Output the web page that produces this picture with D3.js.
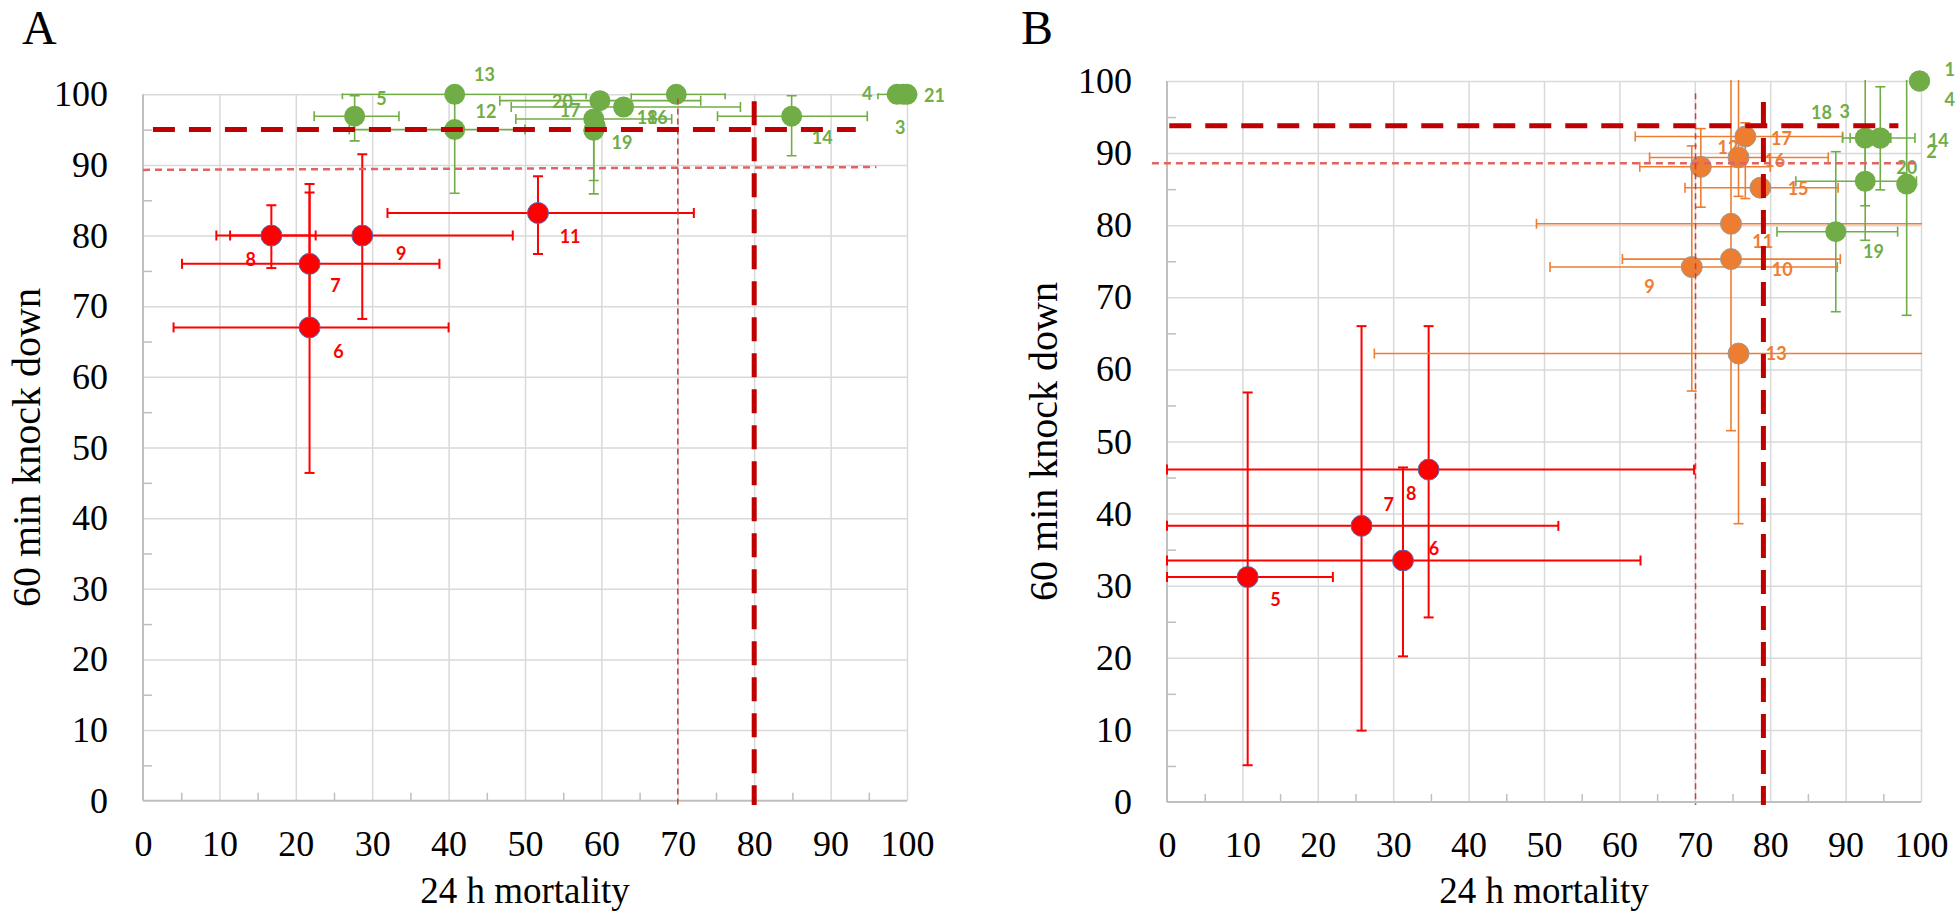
<!DOCTYPE html>
<html><head><meta charset="utf-8">
<script src="https://cdn.jsdelivr.net/npm/d3@7"></script>
<style>body{margin:0;background:#fff}svg{display:block}</style>
</head><body>
<svg id="chart" width="1958" height="914"></svg>
<script>
// ---------- axis ticks ----------
const ticks = [0,10,20,30,40,50,60,70,80,90,100];
const tickLabels = ["0","10","20","30","40","50","60","70","80","90","100"];
const minorTicks = [5,15,25,35,45,55,65,75,85,95];
const xTitle = "24 h mortality";
const yTitle = "60 min knock down";

// ---------- Panel A : red series ----------
const aRedIds  = ["6","7","8","9","11"];
const aRedX    = [21.8, 21.8, 16.8, 28.7, 51.7];
const aRedY    = [67.0, 76.0, 80.0, 80.0, 83.2];
const aRedXLo  = [4.0, 5.1, 9.6, 11.4, 32.0];
const aRedXHi  = [40.0, 38.8, 22.6, 48.4, 72.1];
const aRedYLo  = [46.4, 67.0, 75.4, 68.2, 77.4];
const aRedYHi  = [86.1, 87.3, 84.3, 91.5, 88.4];
const aRedLX   = [25.6, 25.2, 14.1, 33.8, 55.9];
const aRedLY   = [63.6, 72.9, 76.6, 77.5, 79.9];

// ---------- Panel A : green series ----------
const aGreenIds = ["5","13","12","20","17","18","16","19","","14","4","21","3"];
const aGreenX   = [27.7, 40.8, 40.8, 59.8, 62.9, 59.0, 59.2, 59.0, 69.8, 84.9, 98.7, 100, 99.5];
const aGreenY   = [96.9, 100, 95.0, 99.1, 98.2, 96.5, 95.5, 94.9, 100, 96.9, 100, 100, 100];
const aGreenXLo = [22.4, 26.1, 27.0, 46.7, 48.2, 48.8, null, null, 63.9, 75.2, 96.2, null, null];
const aGreenXHi = [33.5, 58.0, 50.0, 73.0, 78.2, 69.2, null, null, 76.2, 94.8, null, null, null];
const aGreenYLo = [93.4, null, 86.0, null, null, 87.8, null, 85.9, null, 91.3, null, null, null];
const aGreenYHi = [99.8, null, 100, null, null, null, null, 97.2, null, 99.8, null, null, null];
const aGreenLX  = [31.2, 44.7, 44.9, 54.9, 55.9, 66.0, 67.3, 62.7, null, 88.9, 94.8, 103.6, 99.1];
const aGreenLY  = [99.4, 102.8, 97.6, 98.9, 97.7, 96.7, 96.7, 93.1, null, 93.8, 100.1, 99.8, 95.3];

// ---------- Panel A : threshold lines ----------
const aThickH = {x:[1.3, 93.3], y:[95, 95]};
const aThinH  = {x:[0, 96], y:[89.3, 89.7]};
const aThickV = {x:[80, 80], y:[99, -0.6]};
const aThinV  = {x:[70, 70], y:[99.4, -0.6]};

// ---------- Panel B : red series ----------
const bRedIds = ["5","6","7","8"];
const bRedX   = [10.7, 31.3, 25.8, 34.7];
const bRedY   = [31.2, 33.5, 38.3, 46.1];
const bRedXLo = [0, 0, 0, 0];
const bRedXHi = [22.0, 62.8, 51.9, 69.9];
const bRedYLo = [5.1, 20.2, 9.9, 25.6];
const bRedYHi = [56.8, 46.4, 66.0, 66.0];
const bRedLX  = [14.4, 35.4, 29.4, 32.4];
const bRedLY  = [28.1, 35.1, 41.3, 42.8];

// ---------- Panel B : orange series ----------
const bOrangeIds = ["17","12","16","15","11","10","9","13"];
const bOrangeX   = [76.7, 70.8, 75.8, 78.7, 74.8, 74.8, 69.6, 75.8];
const bOrangeY   = [92.3, 88.1, 89.4, 85.2, 80.2, 75.3, 74.2, 62.2];
const bOrangeXLo = [62.1, 62.7, 64.0, 68.7, 49.0, 60.4, 50.8, 27.5];
const bOrangeXHi = [89.6, 80.0, 87.7, 89.0, 104, 89.3, 88.9, 104];
const bOrangeYLo = [83.7, 82.5, 84.0, null, 51.5, null, 57.0, 38.6];
const bOrangeYHi = [94.2, 93.4, 106, null, 106, null, 91.0, null];
const bOrangeLX  = [81.5, 74.4, 80.6, 83.7, 79.0, 81.6, 64.0, 80.8];
const bOrangeLY  = [92.0, 90.8, 89.0, 85.0, 77.7, 73.8, 71.5, 62.2];

// ---------- Panel B : green series ----------
const bGreenIds = ["1","4","18","3","14","2","20","19"];
const bGreenX   = [99.8, 99.8, 92.6, 94.6, 94.6, 92.6, 98.1, 88.7];
const bGreenY   = [100, 100, 92.1, 92.1, 92.1, 86.1, 85.7, 79.1];
const bGreenXLo = [null, null, 89.6, 90.6, null, 83.4, null, 80.9];
const bGreenXHi = [null, null, 96.0, 99.2, null, 99.4, null, 96.9];
const bGreenYLo = [null, null, 82.7, 84.9, null, 77.9, 67.5, 68.0];
const bGreenYHi = [null, null, 104, 99.2, null, 92.0, 104, 90.2];
const bGreenLX  = [103.8, 103.8, 86.8, 89.9, 102.3, 101.4, 98.1, 93.7];
const bGreenLY  = [101.5, 97.4, 95.6, 95.7, 91.7, 90.2, 88.0, 76.3];

// ---------- Panel B : threshold lines ----------
const bThickH = {x:[0.3, 97], y:[93.8, 93.8]};
const bThinH  = {x:[-2, 99.5], y:[88.6, 88.6]};
const bThickV = {x:[79.1, 79.1], y:[97.1, -0.4]};
const bThinV  = {x:[70.1, 70.1], y:[98.3, -0.4]};

// ================= drawing =================
const RED = "#ff0000", ORANGE = "#ed7d31", GREEN = "#70ad47", DARKRED = "#c00000";
const SERIF = "'Liberation Serif','Times New Roman',serif";
const LABELFONT = "Lato, 'Open Sans', sans-serif";
const svg = d3.select("#chart");

function makeSeries(ids, x, y, xlo, xhi, ylo, yhi, lx, ly, color, style){
  return ids.map((id,i)=>({id, x:x[i], y:y[i], xlo:xlo[i], xhi:xhi[i], ylo:ylo[i], yhi:yhi[i], lx:lx[i], ly:ly[i], color, style}));
}

function panel(cfg){
  const g = svg.append("g");
  const x = d3.scaleLinear().domain([0,100]).range(cfg.xr);
  const y = d3.scaleLinear().domain([0,100]).range(cfg.yr);
  const pw = cfg.xr[1]-cfg.xr[0], ph = cfg.yr[0]-cfg.yr[1];

  // gridlines
  g.append("g").attr("transform",`translate(0,${cfg.yr[0]})`)
    .call(d3.axisBottom(x).tickValues(ticks.slice(1)).tickSize(-ph).tickFormat(""))
    .call(a=>a.select(".domain").remove())
    .selectAll("line").attr("stroke","#d9d9d9").attr("stroke-width",1.5);
  g.append("g").attr("transform",`translate(${cfg.xr[0]},0)`)
    .call(d3.axisLeft(y).tickValues(ticks.slice(1)).tickSize(-pw).tickFormat(""))
    .call(a=>a.select(".domain").remove())
    .selectAll("line").attr("stroke","#d9d9d9").attr("stroke-width",1.5);
  // minor inner ticks
  g.append("g").attr("transform",`translate(0,${cfg.yr[0]})`)
    .call(d3.axisBottom(x).tickValues(minorTicks).tickSize(-8).tickFormat(""))
    .call(a=>a.select(".domain").remove())
    .selectAll("line").attr("stroke","#bfbfbf").attr("stroke-width",1.5);
  g.append("g").attr("transform",`translate(${cfg.xr[0]},0)`)
    .call(d3.axisLeft(y).tickValues(minorTicks).tickSize(-9).tickFormat(""))
    .call(a=>a.select(".domain").remove())
    .selectAll("line").attr("stroke","#bfbfbf").attr("stroke-width",1.5);
  // axis lines
  g.append("line").attr("x1",x(0)).attr("x2",x(100)).attr("y1",y(0)).attr("y2",y(0))
    .attr("stroke","#bfbfbf").attr("stroke-width",2);
  g.append("line").attr("x1",x(0)).attr("x2",x(0)).attr("y1",y(0)).attr("y2",y(100))
    .attr("stroke","#bfbfbf").attr("stroke-width",2);
  // tick labels
  g.append("g").attr("transform",`translate(0,${cfg.yr[0]})`)
    .call(d3.axisBottom(x).tickValues(ticks).tickSize(0).tickFormat((d,i)=>tickLabels[i]))
    .call(a=>a.select(".domain").remove())
    .selectAll("text").attr("y",55).attr("dy",null)
    .attr("font-family",SERIF).attr("font-size",36).attr("fill","#000");
  g.append("g").attr("transform",`translate(${cfg.xr[0]},0)`)
    .call(d3.axisLeft(y).tickValues(ticks).tickSize(0).tickPadding(35).tickFormat((d,i)=>tickLabels[i]))
    .call(a=>a.select(".domain").remove())
    .selectAll("text").attr("font-family",SERIF).attr("font-size",36).attr("fill","#000");
  // titles
  g.append("text").attr("x",cfg.letterX).attr("y",44).text(cfg.letter)
    .attr("font-family",SERIF).attr("font-size",48).attr("fill","#000");
  g.append("text").attr("x",(cfg.xr[0]+cfg.xr[1])/2).attr("y",903).text(xTitle)
    .attr("text-anchor","middle").attr("font-family",SERIF).attr("font-size",37).attr("fill","#000");
  g.append("text").attr("transform",`translate(${cfg.yTitleX},${(cfg.yr[0]+cfg.yr[1])/2}) rotate(-90)`)
    .text(yTitle).attr("text-anchor","middle").attr("font-family",SERIF).attr("font-size",40).attr("fill","#000");

  // clip for error bars
  const cid = "clip"+cfg.letter;
  svg.append("clipPath").attr("id",cid).append("rect")
    .attr("x",x(0)-1).attr("y",y(100)-1).attr("width",pw+2).attr("height",ph+2);

  const all = cfg.series.flat();
  const eb = g.append("g").attr("clip-path",`url(#${cid})`);
  const cap = 5;
  all.forEach(d=>{
    const sw = d.style.ebWidth;
    const seg = (x1,y1,x2,y2)=>eb.append("line").attr("x1",x1).attr("y1",y1).attr("x2",x2).attr("y2",y2)
      .attr("stroke",d.color).attr("stroke-width",sw);
    if(d.xlo!=null){ seg(x(d.xlo),y(d.y),x(d.x),y(d.y)); seg(x(d.xlo),y(d.y)-cap,x(d.xlo),y(d.y)+cap); }
    if(d.xhi!=null){ seg(x(d.x),y(d.y),x(d.xhi),y(d.y)); seg(x(d.xhi),y(d.y)-cap,x(d.xhi),y(d.y)+cap); }
    if(d.ylo!=null){ seg(x(d.x),y(d.y),x(d.x),y(d.ylo)); seg(x(d.x)-cap,y(d.ylo),x(d.x)+cap,y(d.ylo)); }
    if(d.yhi!=null){ seg(x(d.x),y(d.y),x(d.x),y(d.yhi)); seg(x(d.x)-cap,y(d.yhi),x(d.x)+cap,y(d.yhi)); }
  });
  // labels
  g.append("g").selectAll("text").data(all.filter(d=>d.id && d.lx!=null)).join("text")
    .attr("x",d=>x(d.lx)).attr("y",d=>y(d.ly)).attr("dy","0.35em")
    .attr("text-anchor","middle").text(d=>d.id)
    .attr("font-family",LABELFONT).attr("font-weight",700).attr("font-size",18)
    .attr("fill",d=>d.color);
  // points
  g.append("g").selectAll("circle").data(all).join("circle")
    .attr("cx",d=>x(d.x)).attr("cy",d=>y(d.y)).attr("r",10.5)
    .attr("fill",d=>d.color).attr("stroke",d=>d.style.ptStroke).attr("stroke-width",d=>d.style.ptStrokeW);

  // threshold lines
  const line = d3.line().x(d=>x(d[0])).y(d=>y(d[1]));
  const ref = (o,st)=>g.append("path").attr("d",line(o.x.map((v,i)=>[v,o.y[i]])))
    .attr("fill","none").attr("stroke",st.c).attr("stroke-width",st.w).attr("stroke-dasharray",st.dash);
  ref(cfg.thinH,{c:"#e06464",w:2.5,dash:"7,5"});
  ref(cfg.thinV,{c:"#d83a3a",w:1.5,dash:"6,4"});
  ref(cfg.thickH,{c:DARKRED,w:5,dash:"22,14"});
  ref(cfg.thickV,{c:DARKRED,w:5,dash:"24,12"});
}

const redStyle = {ebWidth:2, ptStroke:"#4a6fb5", ptStrokeW:1};
const orangeStyle = {ebWidth:1.6, ptStroke:"#9a9a9a", ptStrokeW:1};
const greenStyle = {ebWidth:1.6, ptStroke:"none", ptStrokeW:0};

panel({
  letter:"A", letterX:22, yTitleX:40,
  xr:[143,907], yr:[800.7,94.3],
  series:[
    makeSeries(aGreenIds,aGreenX,aGreenY,aGreenXLo,aGreenXHi,aGreenYLo,aGreenYHi,aGreenLX,aGreenLY,GREEN,greenStyle),
    makeSeries(aRedIds,aRedX,aRedY,aRedXLo,aRedXHi,aRedYLo,aRedYHi,aRedLX,aRedLY,RED,redStyle)
  ],
  thickH:aThickH, thinH:aThinH, thickV:aThickV, thinV:aThinV
});
panel({
  letter:"B", letterX:1021, yTitleX:1057,
  xr:[1167,1921], yr:[802,81],
  series:[
    makeSeries(bRedIds,bRedX,bRedY,bRedXLo,bRedXHi,bRedYLo,bRedYHi,bRedLX,bRedLY,RED,redStyle),
    makeSeries(bOrangeIds,bOrangeX,bOrangeY,bOrangeXLo,bOrangeXHi,bOrangeYLo,bOrangeYHi,bOrangeLX,bOrangeLY,ORANGE,orangeStyle),
    makeSeries(bGreenIds,bGreenX,bGreenY,bGreenXLo,bGreenXHi,bGreenYLo,bGreenYHi,bGreenLX,bGreenLY,GREEN,greenStyle)
  ],
  thickH:bThickH, thinH:bThinH, thickV:bThickV, thinV:bThinV
});
</script>
</body></html>
